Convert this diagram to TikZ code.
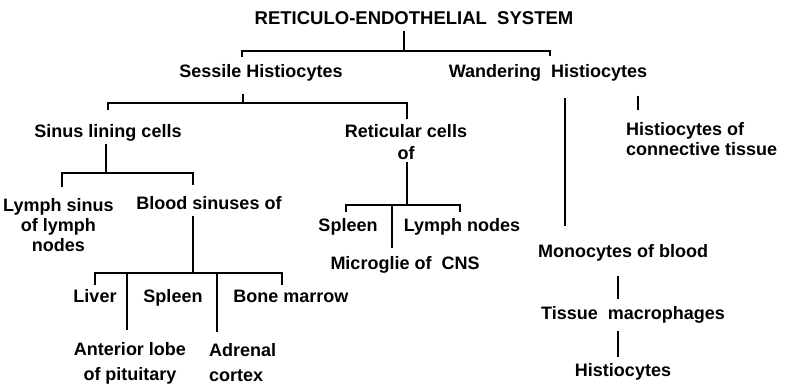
\documentclass[tikz,border=0pt]{standalone}
\usepackage{fontspec}
\setmainfont{Liberation Sans}

\begin{document}
\begin{tikzpicture}[x=1pt,y=-1pt]
    \tikzset{
        block/.style={
            font=\bfseries\fontsize{18}{20}\selectfont,
            inner sep=2pt,align=center
        },
        item/.style={block,text height=13pt,text depth=4pt},
        head/.style={item,font=\bfseries\fontsize{18.5}{20}\selectfont},
        link/.style={line width=2.2pt}
    }
    \useasboundingbox (0,0) rectangle (791,385);

    \node[head] (res) at (414,20) {RETICULO-ENDOTHELIAL\ \ SYSTEM};

    \node[item] (ses) at (261,73) {Sessile Histiocytes};
    \node[item] (wan) at (548,73) {Wandering\ \ Histiocytes};

    \node[item] (sin) at (108,133) {Sinus lining cells};
    \node[block] (ret) at (406,142) {Reticular cells\\[2pt]of};
    \node[block,anchor=west,align=left] (con) at (624,139)
        {Histiocytes of\\connective tissue};

    \node[block,anchor=west] (lym) at (1,225) {Lymph sinus\\of lymph\\nodes};
    \node[item] (blo) at (209,205) {Blood sinuses of};

    \node[item] (liv) at (95,298) {Liver};
    \node[item] (bsp) at (173,298) {Spleen};
    \node[item] (mar) at (291,298) {Bone marrow};
    \node[block] (pit) at (130,363) {Anterior lobe\\[5pt]of pituitary};
    \node[block,anchor=west,align=left] (adr) at (207,363)
        {Adrenal\\[5pt]cortex};

    \node[item] (rsp) at (348,227) {Spleen};
    \node[item] (lyn) at (462,227) {Lymph nodes};
    \node[item] (mic) at (405,265) {Microglie of\ \ CNS};

    \node[item] (mon) at (623,253) {Monocytes of blood};
    \node[item] (mac) at (633,315) {Tissue\ \ macrophages};
    \node[item] (his) at (623,372) {Histiocytes};

    % bar joints
    \coordinate (a0) at (404,51);
    \coordinate (al) at (242,51);
    \coordinate (ar) at (550,51);
    \coordinate (b0) at (243,103);
    \coordinate (bl) at (108,103);
    \coordinate (br) at (407,103);
    \coordinate (c0) at (106,173);
    \coordinate (cl) at (62,173);
    \coordinate (cr) at (193,173);
    \coordinate (d0) at (193,273);
    \coordinate (dl) at (95,273);
    \coordinate (dm) at (127,273);
    \coordinate (dn) at (217,273);
    \coordinate (dr) at (282,273);
    \coordinate (e0) at (407,205);
    \coordinate (el) at (346,205);
    \coordinate (em) at (392,205);
    \coordinate (er) at (460,205);
    \coordinate (wx) at (565,0);
    \coordinate (cx) at (638,0);
    \coordinate (mx) at (618,0);

    \draw[link] (res.south -| a0) -- (a0);
    \draw[link,shorten <=5pt,shorten >=6pt]
        (ses.north -| al) -- (al) -- (ar) -- (wan.north -| ar);

    \draw[link,shorten <=10pt] (ses.south -| b0) -- (b0);
    \draw[link,shorten <=12pt,shorten >=3pt]
        (sin.north -| bl) -- (bl) -- (br) -- (ret.north -| br);

    \draw[link] (sin.south -| c0) -- (c0);
    \draw[link,shorten <=9pt,shorten >=9pt]
        (lym.north -| cl) -- (cl) -- (cr) -- (blo.north -| cr);

    \draw[link] (blo.south -| d0) -- (d0);
    \draw[link,shorten <=2pt,shorten >=2pt]
        (liv.north -| dl) -- (dl) -- (dr) -- (mar.north -| dr);
    \draw[link,shorten >=10pt] (dm) -- (pit.north -| dm);
    \draw[link,shorten >=10pt] (dn) -- (adr.north -| dn);

    \draw[link] (ret.south -| e0) -- (e0);
    \draw[link,shorten <=4pt,shorten >=4pt]
        (rsp.north -| el) -- (el) -- (er) -- (lyn.north -| er);
    \draw[link,shorten >=6pt] (em) -- (mic.north -| em);

    \draw[link,shorten <=14pt,shorten >=16pt] (wan.south -| wx) -- (mon.north -| wx);
    \draw[link,shorten <=12pt,shorten >=10pt] (wan.south -| cx) -- (con.north -| cx);
    \draw[link,shorten <=12pt,shorten >=5pt] (mon.south -| mx) -- (mac.north -| mx);
    \draw[link,shorten <=5pt,shorten >=4pt] (mac.south -| mx) -- (his.north -| mx);
\end{tikzpicture}
\end{document}
